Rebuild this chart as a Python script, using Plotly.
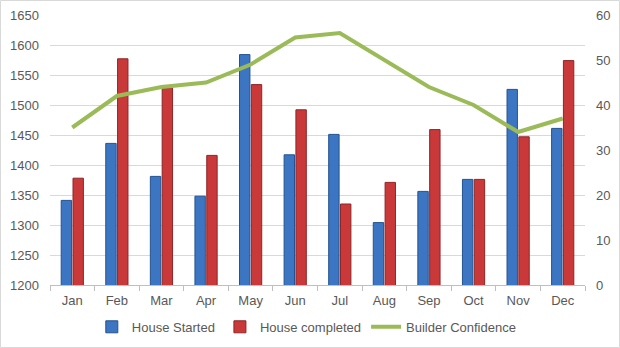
import plotly.graph_objects as go

months = ["Jan", "Feb", "Mar", "Apr", "May", "Jun", "Jul", "Aug", "Sep", "Oct", "Nov", "Dec"]
house_started = [1341, 1436, 1381, 1348, 1584, 1417, 1451, 1304, 1356, 1376, 1526, 1461]
house_completed = [1378, 1577, 1529, 1416, 1534, 1492, 1335, 1371, 1459, 1376, 1447, 1574]
builder_confidence = [35, 42, 44, 45, 49, 55, 56, 50, 44, 40, 34, 37]

W, H = 620, 348
ML, MR, MT, MB = 50, 35, 15, 63
font_family = "Liberation Sans, Arial, sans-serif"

fig = go.Figure()
fig.add_trace(go.Bar(
    x=months, y=house_started, name="House Started",
    marker=dict(color="#3C76C3", line=dict(color="#24528F", width=1)),
))
fig.add_trace(go.Bar(
    x=months, y=house_completed, name="House completed",
    marker=dict(color="#C9393A", line=dict(color="#8E2526", width=1)),
))
fig.add_trace(go.Scatter(
    x=months, y=builder_confidence, name="Builder Confidence", yaxis="y2",
    mode="lines", line=dict(color="#9BBB59", width=4),
))

pw = W - ML - MR
ph = H - MT - MB
fig.update_layout(
    width=W, height=H,
    margin=dict(l=ML, r=MR, t=MT, b=MB, autoexpand=False),
    paper_bgcolor="white", plot_bgcolor="white",
    font=dict(family=font_family, size=13, color="#595959"),
    barmode="group", bargap=0.47, bargroupgap=0.12,
    showlegend=True,
    legend=dict(orientation="h", x=0.48, xanchor="center", y=-0.155, yanchor="middle",
                font=dict(size=13, color="#595959"), itemwidth=30, tracegroupgap=0),
    xaxis=dict(showline=True, linecolor="#BFBFBF", ticks="outside", tickcolor="#BFBFBF",
               ticklen=5, tickson="boundaries", showgrid=False, ticklabelstandoff=3,
               automargin=False),
    yaxis=dict(range=[1200, 1650], dtick=50, showgrid=True, gridcolor="#D9D9D9",
               zeroline=False, showline=False, ticks="", ticklabelstandoff=10,
               automargin=False),
    yaxis2=dict(range=[0, 60], dtick=10, overlaying="y", side="right", showgrid=False,
                zeroline=False, showline=False, ticklabelstandoff=10, automargin=False),
    shapes=[dict(type="rect", xref="paper", yref="paper",
                 x0=-ML / pw + 0.5 / pw, x1=1 + MR / pw - 0.5 / pw,
                 y0=-MB / ph + 0.5 / ph, y1=1 + MT / ph - 0.5 / ph,
                 line=dict(color="#D9D9D9", width=1), layer="below")],
)

fig.write_html("out.html")
